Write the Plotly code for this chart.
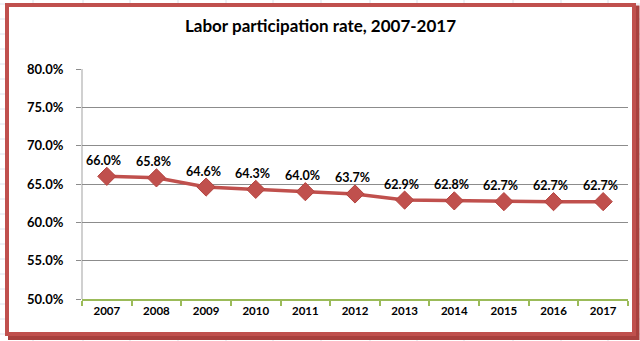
import plotly.graph_objects as go

years = ["2007", "2008", "2009", "2010", "2011", "2012", "2013", "2014", "2015", "2016", "2017"]
rates = [0.660, 0.658, 0.646, 0.643, 0.640, 0.637, 0.629, 0.628, 0.627, 0.627, 0.627]
title_text = "Labor participation rate, 2007-2017"

W, H = 640, 341
L, R, T, B = 82, 12, 69, 42
PW, PH = W - L - R, H - T - B

def px(x):
    return (x - L) / PW

def py(y):
    return (H - B - y) / PH

RED = "#C0504D"
FONT = "Lato"

fig = go.Figure()
fig.add_trace(go.Scatter(
    x=years, y=rates, mode="lines+markers",
    line=dict(color=RED, width=3.5),
    marker=dict(symbol="diamond", size=14, color=RED, line=dict(color="#B5443F", width=1)),
    hoverinfo="skip", showlegend=False,
))

shapes = []
# faint spreadsheet grid behind the chart frame
for vx in [33, 83, 130, 178, 226, 273, 321, 370, 417, 464, 513, 561, 608]:
    shapes.append(dict(type="line", xref="paper", yref="paper", x0=px(vx), x1=px(vx), y0=py(0), y1=py(H),
                       line=dict(color="#DCE1EA", width=1), layer="below"))
for hy in range(4, H, 15):
    shapes.append(dict(type="line", xref="paper", yref="paper", x0=px(0), x1=px(W), y0=py(hy), y1=py(hy),
                       line=dict(color="#DCE1EA", width=1), layer="below"))
# shadow of frame
shapes.append(dict(type="rect", xref="paper", yref="paper", x0=px(10), x1=px(637.5), y0=py(7.5), y1=py(338),
                   line=dict(color="#A8413E", width=4), fillcolor="rgba(0,0,0,0)", layer="below"))
# white chart area
shapes.append(dict(type="rect", xref="paper", yref="paper", x0=px(7), x1=px(634), y0=py(5), y1=py(334),
                   line=dict(color=RED, width=4), fillcolor="white", layer="below"))
# light y-axis line
shapes.append(dict(type="line", xref="paper", yref="paper", x0=0, x1=0, y0=0, y1=1,
                   line=dict(color="#D0D0D0", width=2), layer="below"))

annotations = []
for i, v in enumerate(rates):
    annotations.append(dict(x=i, y=v, xref="x", yref="y", text=f"{v*100:.1f}%", showarrow=False,
                            yshift=16, xshift=-3, font=dict(family=FONT, size=12.5, color="black", weight="bold")))
annotations.append(dict(x=px(320), y=py(25), xref="paper", yref="paper", text=title_text, showarrow=False,
                        xanchor="center", yanchor="middle",
                        font=dict(family=FONT, size=17, color="black", weight="bold")))

fig.update_layout(
    width=W, height=H,
    margin=dict(l=L, r=R, t=T, b=B, pad=0),
    paper_bgcolor="white", plot_bgcolor="rgba(0,0,0,0)",
    shapes=shapes, annotations=annotations,
    xaxis=dict(type="category", showgrid=False, showline=True, linecolor="#9BBB59", linewidth=2,
               ticks="outside", tickson="boundaries", ticklen=5, tickcolor="#9BBB59", tickwidth=1.5,
               tickfont=dict(family=FONT, size=11.5, color="black", weight="bold"), range=[-0.5, 10.5],
               zeroline=False, fixedrange=True),
    yaxis=dict(range=[0.5, 0.8], dtick=0.05, tickformat=".1%", showgrid=True, gridcolor="#8C8C8C", gridwidth=1,
               showline=False, ticks="outside", ticklen=5, tickcolor="#8C8C8C",
               tickfont=dict(family=FONT, size=13, color="black", weight="bold"), zeroline=False,
               ticklabelstandoff=10, fixedrange=True),
)

fig.write_html("out.html")
